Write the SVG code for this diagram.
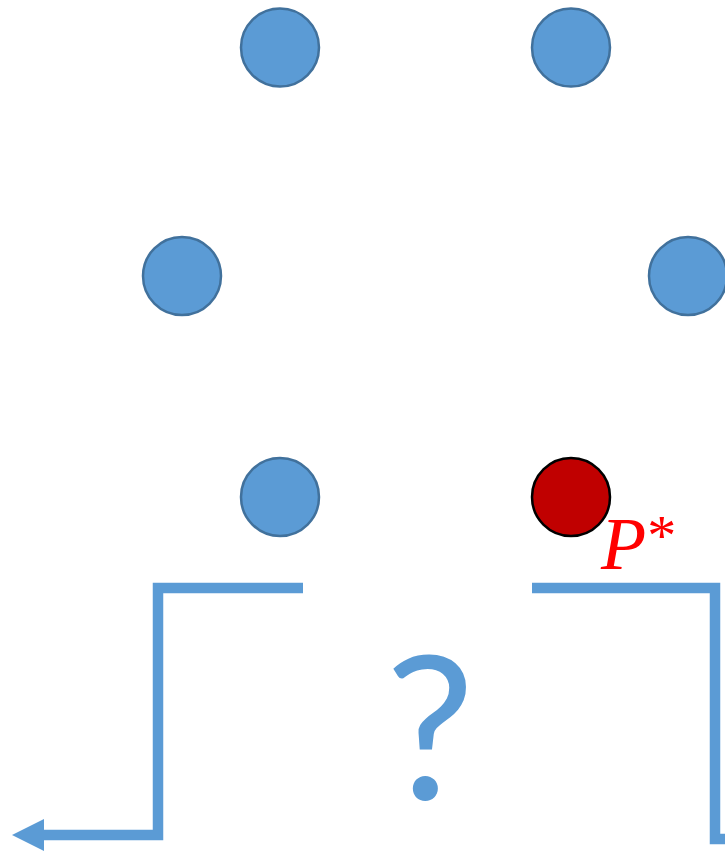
<svg xmlns="http://www.w3.org/2000/svg" width="725" height="852" viewBox="0 0 725 852">
<style>
.pt{fill:#5b9bd5;stroke:#41719c;stroke-width:2.5}
.star{fill:#c00000;stroke:#000;stroke-width:2.5}
.conn{fill:none;stroke:#5b9bd5;stroke-width:10.5;stroke-linejoin:miter;stroke-linecap:butt}
</style>
<defs>
<marker id="ah" markerUnits="userSpaceOnUse" viewBox="0 0 32 32" refX="0" refY="16" markerWidth="32" markerHeight="32" orient="auto">
<path d="M0,0 L32,16 L0,32 Z" fill="#5b9bd5"/>
</marker>
</defs>
<rect width="725" height="852" fill="#fff"/>
<g id="n1"><circle class="pt" cx="280" cy="47.5" r="39"/></g>
<g id="n2"><circle class="pt" cx="571" cy="47.5" r="39"/></g>
<g id="n3"><circle class="pt" cx="182" cy="276" r="39"/></g>
<g id="n4"><circle class="pt" cx="688" cy="276" r="39"/></g>
<g id="n5"><circle class="pt" cx="280" cy="497" r="39"/></g>
<g id="p-star"><circle class="star" cx="571" cy="497" r="39"/>
<text x="601" y="569" font-family="Liberation Serif, serif" font-size="74" fill="#ff0000"><tspan font-style="italic">P</tspan><tspan dx="1" dy="-14" font-size="58">*</tspan></text>
</g>
<g id="question"><text x="430" y="800" text-anchor="middle" font-family="Lato, sans-serif" font-size="200" fill="#5b9bd5">?</text></g>
<g id="connectors">
<path class="conn" d="M303,588 H158 V835 H44" marker-end="url(#ah)"/>
<path class="conn" d="M532,588 H715 V839 H730"/>
</g>
</svg>
